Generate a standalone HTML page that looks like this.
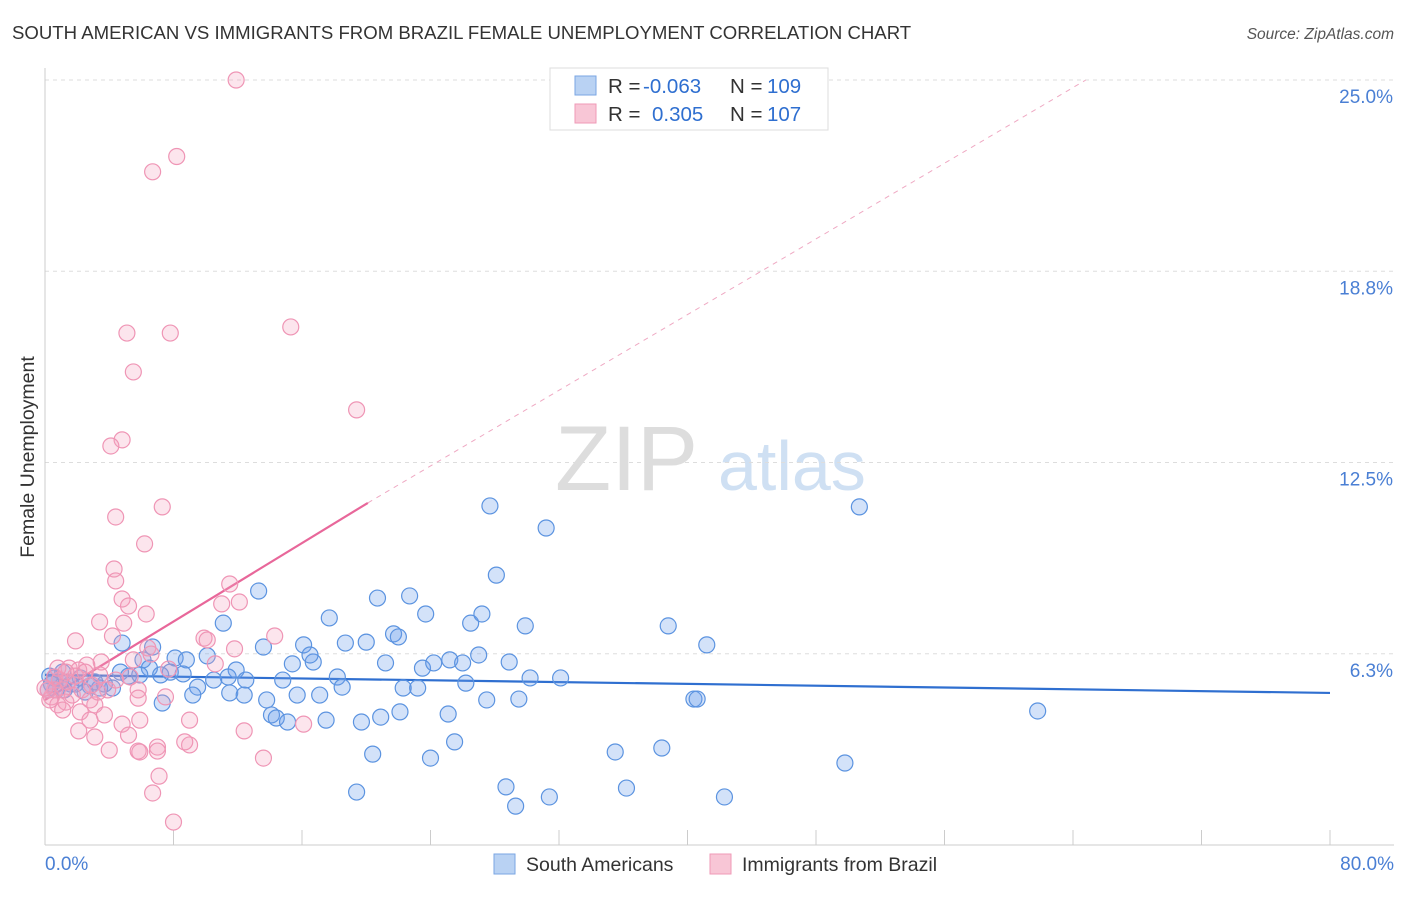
<!DOCTYPE html>
<html><head><meta charset="utf-8">
<style>
body{margin:0;background:#fff;font-family:"Liberation Sans",sans-serif;}
svg text{font-family:"Liberation Sans",sans-serif;}
</style></head>
<body>
<svg id="chart" width="1406" height="892" xmlns="http://www.w3.org/2000/svg">
<text x="12" y="39" font-size="18.6" fill="#333">SOUTH AMERICAN VS IMMIGRANTS FROM BRAZIL FEMALE UNEMPLOYMENT CORRELATION CHART</text>
<text x="1394" y="39" font-size="15.5" fill="#555" text-anchor="end" font-style="italic">Source: ZipAtlas.com</text>
<g>
<text x="555" y="490" font-size="92" fill="#ddd" font-family="Liberation Serif,serif">ZIP</text>
<text x="718" y="490" font-size="70" fill="#cfe0f3">atlas</text>
</g>
<g id="grid"></g>
<g id="axes"></g>
<text transform="translate(34,457) rotate(-90)" font-size="19.5" fill="#333" text-anchor="middle">Female Unemployment</text>
<text x="45" y="870" font-size="19" fill="#4a7fd4">0.0%</text>
<text x="1394" y="870" font-size="19" fill="#4a7fd4" text-anchor="end">80.0%</text>
<g id="trend"></g>
<g id="pts-blue"></g>
<g id="pts-pink"></g>
<g>
<rect x="550" y="68" width="278" height="62" fill="#fff" stroke="#ddd"/>
<rect x="575" y="76" width="21" height="19" fill="#b9d2f3" stroke="#7aa6e3"/>
<text x="608" y="93" font-size="20.5" fill="#333">R = </text><text x="643" y="93" font-size="20.5" fill="#2f6fd0">-0.063</text>
<text x="730" y="93" font-size="20.5" fill="#333">N = </text><text x="767" y="93" font-size="20.5" fill="#2f6fd0">109</text>
<rect x="575" y="104" width="21" height="19" fill="#f8c6d6" stroke="#ef9ab7"/>
<text x="608" y="121" font-size="20.5" fill="#333">R = </text><text x="652" y="121" font-size="20.5" fill="#2f6fd0">0.305</text>
<text x="730" y="121" font-size="20.5" fill="#333">N = </text><text x="767" y="121" font-size="20.5" fill="#2f6fd0">107</text>
</g>
<g>
<rect x="494" y="854" width="21" height="20" fill="#b9d2f3" stroke="#7aa6e3"/>
<text x="526" y="871" font-size="19.5" fill="#333">South Americans</text></g>
<g>
<rect x="710" y="854" width="21" height="20" fill="#f8c6d6" stroke="#ef9ab7"/>
<text x="742" y="871" font-size="19.5" fill="#333">Immigrants from Brazil</text></g>
</svg>
<script>
const yTicks=[6.3,12.5,18.8,25.0];
const yTickVals=[6.25,12.5,18.75,25];
const xTicks=[0,8,16,24,32,40,48,56,64,72,80];
const blueX=[27.7,31.2,50.7,28.1,20.7,22.7,13.3,17.7,23.7,26.5,27.2,29.9,38.8,41.2,11.1,13.6,16.1,18.7,20.0,21.7,22.0,6.7,4.8,6.1,8.1,8.8,10.1,11.9,15.4,16.7,16.5,21.2,23.5,24.2,25.2,26.0,27.0,28.9,30.2,32.1,18.2,18.5,14.8,15.7,17.1,11.4,12.5,10.5,9.5,9.2,11.5,12.4,7.3,6.5,5.2,4.2,3.4,2.8,1.6,0.9,0.6,0.3,1.2,2.2,3.7,4.7,13.8,14.1,14.4,15.1,17.5,19.7,20.9,22.1,25.1,27.5,29.5,22.3,23.2,26.2,40.4,40.6,61.8,25.5,20.4,24.0,35.5,38.4,49.8,28.7,19.4,36.2,31.4,29.3,42.3,7.8,8.6,7.2,5.9,0.7,1.9,2.5,3.1,0.2,1.1,0.4];
const blueY=[11.08,10.36,11.05,8.82,8.07,8.14,8.30,7.42,7.55,7.25,7.55,7.16,7.16,6.54,7.25,6.47,6.54,6.60,6.63,6.90,6.80,6.47,6.60,6.05,6.11,6.05,6.18,5.72,5.92,5.98,6.21,5.95,5.78,5.95,6.05,5.95,6.21,5.98,5.46,5.46,5.49,5.16,5.39,4.90,4.90,5.49,5.39,5.39,5.16,4.90,4.97,4.90,4.64,5.78,5.52,5.13,5.13,5.20,5.26,5.39,5.46,5.52,5.07,5.46,5.26,5.65,4.74,4.25,4.15,4.02,4.08,4.02,4.18,4.35,4.28,4.74,4.77,5.13,5.13,5.29,4.77,4.77,4.38,3.37,2.97,2.84,3.04,3.17,2.68,1.90,1.73,1.86,1.57,1.27,1.57,5.65,5.59,5.56,5.56,5.07,5.26,5.00,5.33,5.07,5.65,5.26];
const pinkX=[11.9,8.2,6.7,15.3,5.1,7.8,5.5,19.4,4.8,4.1,7.3,4.4,6.2,4.3,4.4,11.5,4.8,5.2,6.3,12.1,11.0,3.4,4.9,4.2,14.3,9.9,10.1,11.8,1.9,6.4,6.6,10.6,7.7,5.5,3.5,2.6,1.5,2.1,3.4,5.3,5.8,5.8,7.5,0.9,0.6,0.4,0.8,1.3,1.7,2.3,2.9,3.9,3.1,3.7,2.2,2.8,2.1,3.1,4.8,5.2,9.0,9.0,5.8,7.0,7.0,12.4,13.6,4.0,5.9,16.1,7.1,6.7,8.0,8.7,0.6,0.2,1.1,1.4,1.9,2.5,0.3,0.0,0.8,1.3,2.8,3.3,4.4,1.1,5.9];
const pinkY=[25.0,22.5,22.0,16.93,16.73,16.73,15.46,14.22,13.24,13.04,11.05,10.72,9.84,9.02,8.63,8.53,8.04,7.81,7.55,7.94,7.88,7.29,7.25,6.83,6.83,6.76,6.70,6.41,6.67,6.44,6.24,5.92,5.75,6.05,5.98,5.88,5.78,5.72,5.56,5.49,5.07,4.80,4.84,5.39,5.07,4.84,4.58,4.67,4.90,5.07,5.23,5.07,4.58,4.25,4.35,4.08,3.73,3.53,3.95,3.59,4.08,3.27,3.07,3.20,3.07,3.73,2.84,3.10,3.04,3.95,2.25,1.70,0.75,3.37,5.49,5.07,5.07,5.33,5.52,5.65,4.74,5.13,5.78,5.65,4.74,5.00,5.39,4.41,4.08];
const blueTrend=[5.56,4.97];
const pinkTrend=[4.74,11.18];
const pinkTrendEndX=20.1, pinkDashEndX=64.8, pinkDashEndY=25;

const NS="http://www.w3.org/2000/svg";
const X=v=>45+v*(1285/80);
const Y=v=>845-v*(765/25);
function mk(tag,attrs,parent){const e=document.createElementNS(NS,tag);for(const k in attrs)e.setAttribute(k,attrs[k]);parent.appendChild(e);return e;}
const grid=document.getElementById('grid'),axes=document.getElementById('axes');
yTickVals.forEach((v,i)=>{
 const l=mk('line',{x1:45,x2:1394,y1:Y(v),y2:Y(v),stroke:'#ddd','stroke-dasharray':'4,4'},grid);
 
 
 const t=mk('text',{x:1393,y:Y(v)+23,'font-size':19,fill:'#4a7fd4','text-anchor':'end'},axes);
 t.textContent=yTicks[i].toFixed(1)+'%';
 
 
});
const ya=mk('line',{x1:45,x2:45,y1:68,y2:845,stroke:'#ccc'},axes);


const xa=mk('line',{x1:45,x2:1394,y1:845,y2:845,stroke:'#ccc'},axes);


xTicks.forEach(v=>{
 const t=mk('line',{x1:X(v),x2:X(v),y1:830,y2:845,stroke:'#ccc'},axes);
 
 
});
const tr=document.getElementById('trend');
const bl=mk('line',{x1:X(0),x2:X(80),y1:Y(blueTrend[0]),y2:Y(blueTrend[1]),stroke:'#2f6fd0','stroke-width':2.2},tr);


const pl=mk('line',{x1:X(0),x2:X(pinkTrendEndX),y1:Y(pinkTrend[0]),y2:Y(pinkTrend[1]),stroke:'#e8679a','stroke-width':2.2},tr);


const pd=mk('line',{x1:X(pinkTrendEndX),x2:X(pinkDashEndX),y1:Y(pinkTrend[1]),y2:Y(pinkDashEndY),stroke:'#efa9c3','stroke-width':1,'stroke-dasharray':'5,5'},tr);


const gb=document.getElementById('pts-blue');
blueX.forEach((v,i)=>{
 const c=mk('circle',{cx:X(v),cy:Y(blueY[i]),r:8,fill:'rgba(110,160,235,0.3)',stroke:'#5b93e0','stroke-width':1.2},gb);
 
 
});
const gp=document.getElementById('pts-pink');
pinkX.forEach((v,i)=>{
 const c=mk('circle',{cx:X(v),cy:Y(pinkY[i]),r:8,fill:'rgba(245,160,190,0.28)',stroke:'#ef95b5','stroke-width':1.2},gp);
 
 
});
</script>
</body></html>
